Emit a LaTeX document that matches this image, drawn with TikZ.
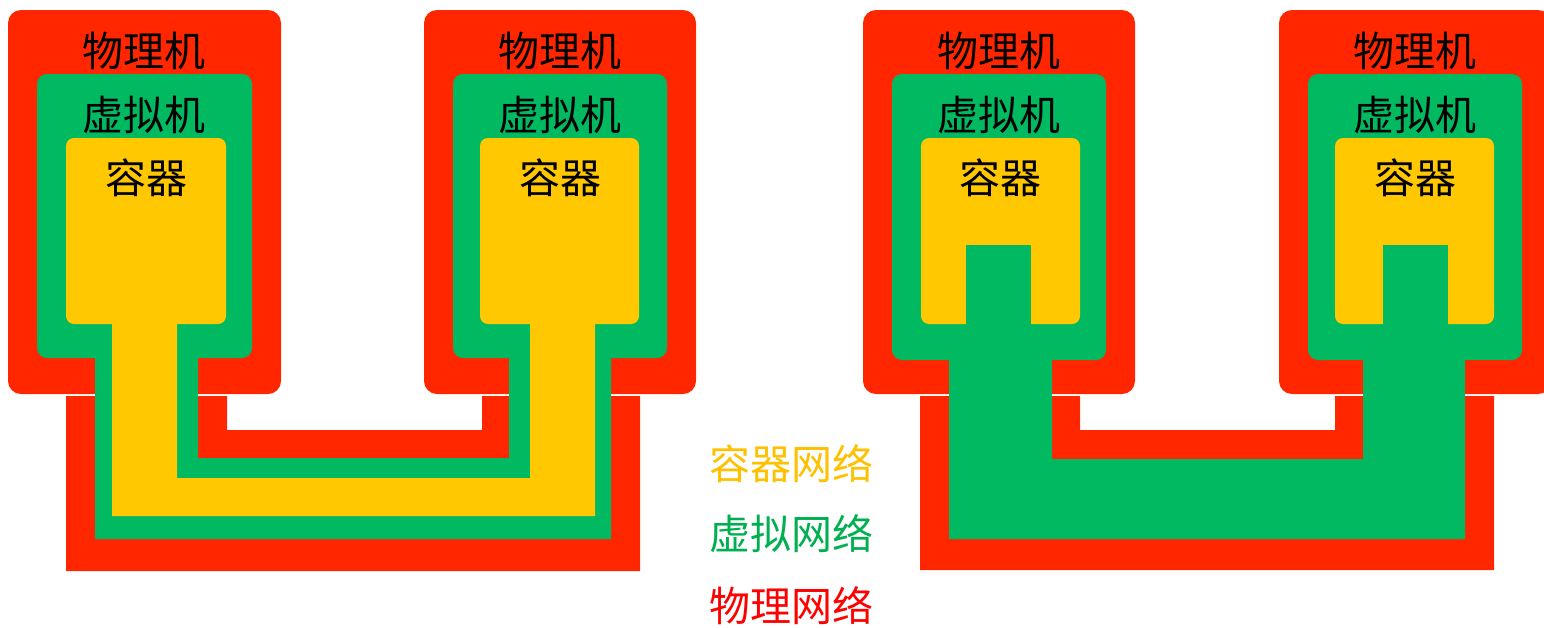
\documentclass[tikz,border=0pt]{standalone}
\usepackage{fontspec}
\setmainfont{Noto Sans CJK SC}
\definecolor{hostred}{RGB}{255,38,0}
\definecolor{vmgreen}{RGB}{0,185,96}
\definecolor{ctyellow}{RGB}{255,200,0}
\definecolor{netred}{RGB}{255,0,0}
\definecolor{netgreen}{RGB}{0,176,80}
\definecolor{netyellow}{RGB}{255,192,0}
\begin{document}
\begin{tikzpicture}[x=1pt,y=-1pt,
  host/.style={fill=hostred,rounded corners=13pt},
  vm/.style={fill=vmgreen,rounded corners=10pt},
  ct/.style={fill=ctyellow,rounded corners=8pt},
  lbl/.style={font=\fontsize{41}{49}\selectfont,inner sep=0pt}]
  \useasboundingbox (0,0) rectangle (1544,627);
  % physical machines and physical networks
  \fill[host] (8,10) rectangle (281,394);
  \fill[host] (424,10) rectangle (696,394);
  \fill[host] (863,10) rectangle (1135,394);
  \fill[host] (1279,10) rectangle (1551,394);
  \fill[hostred] (66,396) -- (66,571) -- (640,571) -- (640,396) -- (482,396) -- (482,430) -- (227,430) -- (227,396) -- cycle;
  \fill[hostred] (920,396) -- (920,570) -- (1494,570) -- (1494,396) -- (1335,396) -- (1335,430) -- (1080,430) -- (1080,396) -- cycle;
  % virtual machines and virtual networks
  \fill[vm] (37,74) rectangle (252,358);
  \fill[vm] (453,74) rectangle (667,358);
  \fill[vm] (892,74) rectangle (1106,360);
  \fill[vm] (1308,74) rectangle (1522,360);
  \fill[vmgreen] (95,355) -- (95,539) -- (611,539) -- (611,355) -- (509,355) -- (509,458) -- (198,458) -- (198,355) -- cycle;
  \fill[vmgreen] (949,355) -- (949,539) -- (1465,539) -- (1465,355) -- (1363,355) -- (1363,459) -- (1052,459) -- (1052,355) -- cycle;
  % containers and container network
  \fill[ct] (66,138) rectangle (226,324);
  \fill[ct] (480,138) rectangle (639,324);
  \fill[ct] (921,138) rectangle (1080,324);
  \fill[ct] (1335,138) rectangle (1494,324);
  \fill[vmgreen] (966,245) rectangle (1031,330);
  \fill[vmgreen] (1383,245) rectangle (1448,330);
  \fill[ctyellow] (112,321) -- (112,516) -- (595,516) -- (595,321) -- (530,321) -- (530,478) -- (177,478) -- (177,321) -- cycle;
  % labels
  \node[lbl] (pm1) at (144,51) {物理机};
  \node[lbl] (pm2) at (560,51) {物理机};
  \node[lbl] (pm3) at (999,51) {物理机};
  \node[lbl] (pm4) at (1415,51) {物理机};
  \node[lbl] (vm1) at (144,115) {虚拟机};
  \node[lbl] (vm2) at (560,115) {虚拟机};
  \node[lbl] (vm3) at (999,115) {虚拟机};
  \node[lbl] (vm4) at (1415,115) {虚拟机};
  \node[lbl] (ct1) at (146,178) {容器};
  \node[lbl] (ct2) at (560,178) {容器};
  \node[lbl] (ct3) at (1000,178) {容器};
  \node[lbl] (ct4) at (1415,178) {容器};
  % legend
  \node[lbl,text=netyellow] (ctnet) at (791,464) {容器网络};
  \node[lbl,text=netgreen] (vmnet) at (791,534) {虚拟网络};
  \node[lbl,text=netred] (pmnet) at (791,606) {物理网络};
\end{tikzpicture}
\end{document}
